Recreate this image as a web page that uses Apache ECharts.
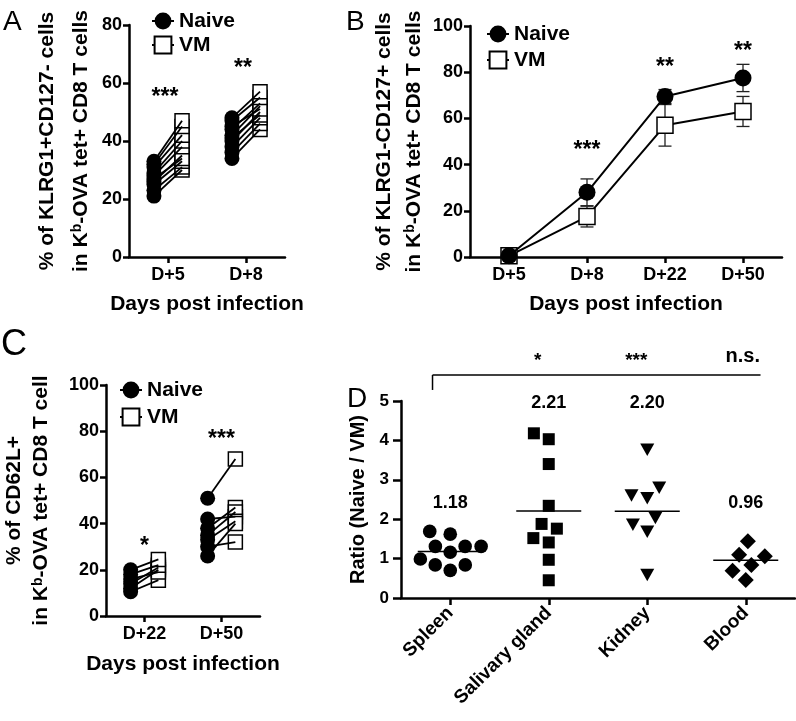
<!DOCTYPE html>
<html><head><meta charset="utf-8">
<script src="https://cdn.jsdelivr.net/npm/echarts@6.0.0/dist/echarts.min.js"></script>
<style>html,body{margin:0;padding:0;background:#fff}#c{width:796px;height:721px}</style>
</head><body><div id="c"></div>
<script>
// ---------- DATA ----------
// Panel A: % KLRG1+CD127- (paired Naive vs VM)
const aCategories = ['D+5', 'D+8'];
const aNaiveD5 = [21, 23, 25, 26, 27, 28, 29, 31, 32, 33];
const aVMD5    = [30, 31, 33, 35, 34, 38, 40, 42, 45, 47];
const aNaiveD8 = [34, 36, 38, 40, 41, 42, 44, 45, 47, 48];
const aVMD8    = [44, 46, 48, 50, 49, 52, 53, 51, 55, 57];
const aStars = ['***', '**'];
const aStarY = [55, 65];
const aTicks = [0, 20, 40, 60, 80];

// Panel B: % KLRG1-CD127+ (mean +/- SD)
const bCategories = ['D+5', 'D+8', 'D+22', 'D+50'];
const bNaive    = [0.5, 28, 69.5, 77.5];
const bNaiveErr = [0.3, 5.8, 3, 5.9];
const bVM       = [0.5, 17.5, 57, 63];
const bVMErr    = [0.3, 4.5, 9, 6.5];
const bStars = ['', '***', '**', '**'];
const bStarY = [0, 46, 82, 89];
const bTicks = [0, 20, 40, 60, 80, 100];

// Panel C: % CD62L+ (paired)
const cCategories = ['D+22', 'D+50'];
const cNaiveD22 = [10.5, 12, 14, 16, 18, 20];
const cVMD22    = [15.5, 20, 21, 19, 22, 24.5];
const cNaiveD50 = [51, 42, 38, 35, 33, 30, 26];
const cVMD50    = [68, 43, 47, 45, 41, 32, 40];
const cStars = ['*', '***'];
const cStarY = [30, 76.5];
const cTicks = [0, 20, 40, 60, 80, 100];

// Panel D: Ratio (Naive / VM)
const dCategories = ['Spleen', 'Salivary gland', 'Kidney', 'Blood'];
const dSpleen   = [1.31, 1.62, 1.69, 0.84, 1.31, 1.16, 1.31, 0.99, 0.70, 0.84];
const dSalivary = [4.03, 4.18, 3.40, 2.34, 1.76, 1.88, 1.52, 1.41, 0.97, 0.45];
const dKidney   = [3.78, 2.82, 2.55, 2.62, 1.88, 1.70, 2.05, 0.60];
const dBlood    = [1.44, 0.84, 1.10, 1.06, 0.46, 0.69];
const dMeans      = [1.18, 2.21, 2.20, 0.96];
const dMeanLabels = ['1.18', '2.21', '2.20', '0.96'];
const dSig = ['*', '***', 'n.s.'];
const dTicks = [0, 1, 2, 3, 4, 5];

// ---------- LAYOUT / STYLE ----------
const FONT = '"Liberation Sans", Arial, sans-serif';
const BLACK = '#000';
const OFF = 0.18;                 // pair offset (fraction of band)
const meanLabelY = [2.4, 4.95, 4.95, 2.4];

const chart = echarts.init(document.getElementById('c'));

function pairData(catIdx, naive, vm) { return naive.map((v, i) => [catIdx, v, vm[i]]); }
const aPairs = pairData(0, aNaiveD5, aVMD5).concat(pairData(1, aNaiveD8, aVMD8));
const cPairs = pairData(0, cNaiveD22, cVMD22).concat(pairData(1, cNaiveD50, cVMD50));

function pairRender(kind, r) {
  return function (params, api) {
    const cat = api.value(0);
    const band = api.size([1, 0])[0];
    const pn = api.coord([cat, api.value(1)]);
    const pv = api.coord([cat, api.value(2)]);
    const xn = pn[0] - OFF * band, xv = pv[0] + OFF * band;
    if (kind === 'line') return { type: 'line', shape: { x1: xn, y1: pn[1], x2: xv, y2: pv[1] }, style: { stroke: BLACK, lineWidth: 1.8 } };
    if (kind === 'sq') return { type: 'rect', shape: { x: xv - r, y: pv[1] - r, width: 2 * r, height: 2 * r }, style: { fill: '#fff', stroke: BLACK, lineWidth: 1.5 } };
    return { type: 'circle', shape: { cx: xn, cy: pn[1], r: r }, style: { fill: BLACK } };
  };
}

function pairSeries(gi, pairs, r) {
  const base = { type: 'custom', xAxisIndex: gi, yAxisIndex: gi, data: pairs, encode: { x: 0, y: [1, 2] }, silent: true };
  return [
    Object.assign({}, base, { name: 'VM', renderItem: pairRender('sq', r - 0.5) }),
    Object.assign({}, base, { name: 'pairs' + gi, renderItem: pairRender('line', r) }),
    Object.assign({}, base, { name: 'Naive', renderItem: pairRender('circle', r) })
  ];
}

function textSeries(gi, texts, ys, fontSize, dx) {
  return {
    type: 'custom', xAxisIndex: gi, yAxisIndex: gi, silent: true,
    data: texts.map((t, i) => [i, ys[i]]),
    encode: { x: 0, y: 1 },
    renderItem: function (params, api) {
      const p = api.coord([api.value(0), api.value(1)]);
      return { type: 'text', x: p[0] + (dx || 0), y: p[1],
        style: { text: texts[params.dataIndex], fill: BLACK, fontSize: fontSize, fontWeight: 'bold', fontFamily: FONT, align: 'center', verticalAlign: 'middle' } };
    }
  };
}

function errSeries(gi, means, errs) {
  return {
    type: 'custom', xAxisIndex: gi, yAxisIndex: gi, silent: true, z: 1,
    data: means.map((m, i) => [i, m - errs[i], m + errs[i]]),
    encode: { x: 0, y: [1, 2] },
    renderItem: function (params, api) {
      const lo = api.coord([api.value(0), api.value(1)]);
      const hi = api.coord([api.value(0), api.value(2)]);
      const w = 6.5;
      const st = { stroke: '#222', lineWidth: 1.3 };
      return { type: 'group', children: [
        { type: 'line', shape: { x1: lo[0], y1: lo[1], x2: hi[0], y2: hi[1] }, style: st },
        { type: 'line', shape: { x1: lo[0] - w, y1: lo[1], x2: lo[0] + w, y2: lo[1] }, style: st },
        { type: 'line', shape: { x1: hi[0] - w, y1: hi[1], x2: hi[0] + w, y2: hi[1] }, style: st }
      ] };
    }
  };
}

// beeswarm jitter for the column scatter in panel D
const swarmCache = {};
function swarmOffsets(key, vals, pxPerUnit, d) {
  const ck = key + ':' + pxPerUnit.toFixed(3);
  if (swarmCache[ck]) return swarmCache[ck];
  const order = vals.map((v, i) => i).sort((a, b) => vals[a] - vals[b]);
  const placed = [], off = new Array(vals.length);
  order.forEach(i => {
    const y = vals[i] * pxPerUnit;
    const cands = [0];
    placed.forEach(p => { const dy = Math.abs(p.y - y); if (dy < d) { const dx = Math.sqrt(d * d - dy * dy); cands.push(p.x + dx, p.x - dx); } });
    cands.sort((a, b) => (Math.abs(a) - Math.abs(b)) || (a - b));
    let best = 0;
    for (const c of cands) {
      if (placed.every(p => { const dy = p.y - y, dx = p.x - c; return dx * dx + dy * dy >= d * d - 0.01; })) { best = c; break; }
    }
    off[i] = best; placed.push({ x: best, y: y });
  });
  swarmCache[ck] = off;
  return off;
}

function groupSeries(catIdx, vals, shape) {
  return {
    type: 'custom', xAxisIndex: 3, yAxisIndex: 3, silent: true, z: 3,
    data: vals.map(v => [catIdx, v]), encode: { x: 0, y: 1 },
    renderItem: function (params, api) {
      const pxPerUnit = api.size([0, 1])[1];
      const offs = swarmOffsets(shape, vals, pxPerUnit, 16);
      const p = api.coord([api.value(0), api.value(1)]);
      const x = p[0] + offs[params.dataIndex], y = p[1];
      const st = { fill: BLACK };
      if (shape === 'circle') return { type: 'circle', shape: { cx: x, cy: y, r: 6.8 }, style: st };
      if (shape === 'square') return { type: 'rect', shape: { x: x - 6, y: y - 6, width: 12, height: 12 }, style: st };
      if (shape === 'tri') return { type: 'polygon', shape: { points: [[x - 7, y - 5.5], [x + 7, y - 5.5], [x, y + 7]] }, style: st };
      return { type: 'polygon', shape: { points: [[x, y - 8], [x + 8, y], [x, y + 8], [x - 8, y]] }, style: st };
    }
  };
}

const meanSeries = {
  type: 'custom', xAxisIndex: 3, yAxisIndex: 3, silent: true, z: 2,
  data: dMeans.map((m, i) => [i, m]), encode: { x: 0, y: 1 },
  renderItem: function (params, api) {
    const p = api.coord([api.value(0), api.value(1)]);
    const hw = api.size([1, 0])[0] * 0.33;
    return { type: 'line', shape: { x1: p[0] - hw, y1: p[1], x2: p[0] + hw, y2: p[1] }, style: { stroke: BLACK, lineWidth: 1.6 } };
  }
};

const bracketSeries = {
  type: 'custom', xAxisIndex: 3, yAxisIndex: 3, silent: true,
  data: [[0, 5]], encode: { x: 0, y: 1 },
  renderItem: function (params, api) {
    const band = api.size([1, 0])[0];
    const l = api.coord([0, 5.66]), r = api.coord([3, 5.66]), leg = api.coord([0, 5.28]);
    const x1 = l[0] - 0.18 * band, x2 = r[0] + 0.15 * band;
    const st = { stroke: BLACK, lineWidth: 1.5 };
    const kids = [
      { type: 'line', shape: { x1: x1, y1: l[1], x2: x2, y2: l[1] }, style: st },
      { type: 'line', shape: { x1: x1, y1: l[1], x2: x1, y2: leg[1] }, style: st }
    ];
    dSig.forEach((t, i) => {
      const p = api.coord([i + 1, 6.08]);
      const big = t === 'n.s.';
      kids.push({ type: 'text', x: p[0] + (big ? -3 : -11), y: p[1] + (big ? -2 : 2),
        style: { text: t, fill: BLACK, fontSize: big ? 20 : 19, fontWeight: 'bold', fontFamily: FONT, align: 'center', verticalAlign: 'middle' } });
    });
    return { type: 'group', children: kids };
  }
};

const meanLabelSeries = {
  type: 'custom', xAxisIndex: 3, yAxisIndex: 3, silent: true,
  data: dMeanLabels.map((t, i) => [i, meanLabelY[i]]), encode: { x: 0, y: 1 },
  renderItem: function (params, api) {
    const p = api.coord([api.value(0), api.value(1)]);
    return { type: 'text', x: p[0], y: p[1], style: { text: dMeanLabels[params.dataIndex], fill: BLACK, fontSize: 18, fontWeight: 'bold', fontFamily: FONT, align: 'center', verticalAlign: 'middle' } };
  }
};

// ---------- AXES ----------
const axLine = { show: true, lineStyle: { color: BLACK, width: 2.5 } };
const axTick = { show: true, length: 6, lineStyle: { color: BLACK, width: 2.5 } };
const lbl = { color: BLACK, fontSize: 18, fontWeight: 'bold', fontFamily: FONT };
const richName = {
  t: { fontSize: 21, fontWeight: 'bold', fontFamily: FONT, color: BLACK },
  s: { fontSize: 14, fontFamily: FONT, color: BLACK, padding: [0, 0, 7, 0] }
};

function xCat(gi, cats, extra) {
  return Object.assign({
    type: 'category', gridIndex: gi, data: cats, boundaryGap: true,
    axisLine: axLine, axisTick: Object.assign({}, axTick, { alignWithLabel: true }),
    axisLabel: Object.assign({}, lbl, { margin: 9, interval: 0 }),
    name: 'Days post infection', nameLocation: 'middle', nameGap: 37,
    nameTextStyle: { color: BLACK, fontSize: 21, fontWeight: 'bold', fontFamily: FONT },
    splitLine: { show: false }
  }, extra || {});
}
function yVal(gi, ticks, name, lh, gap, extra) {
  return Object.assign({
    type: 'value', gridIndex: gi, min: ticks[0], max: ticks[ticks.length - 1], interval: ticks[1] - ticks[0],
    axisLine: axLine, axisTick: axTick,
    axisLabel: Object.assign({}, lbl, { margin: 7 }),
    splitLine: { show: false },
    name: name, nameLocation: 'middle', nameRotate: 90, nameGap: gap,
    nameTextStyle: { color: BLACK, fontSize: 21, fontWeight: 'bold', fontFamily: FONT, lineHeight: lh,
      rich: { t: Object.assign({}, richName.t, { lineHeight: lh }), s: richName.s } }
  }, extra || {});
}

const legendBase = {
  orient: 'vertical', data: ['Naive', 'VM'], selectedMode: false,
  itemWidth: 22, itemHeight: 21,
  textStyle: { color: BLACK, fontSize: 21, fontWeight: 'bold', fontFamily: FONT }
};

const option = {
  animation: false,
  backgroundColor: '#fff',
  textStyle: { fontFamily: FONT },
  grid: [
    { left: 129, top: 25, width: 156, height: 232 },
    { left: 470, top: 26, width: 312, height: 231 },
    { left: 106, top: 385, width: 154, height: 231 },
    { left: 401, top: 401, width: 394, height: 197 }
  ],
  legend: [
    Object.assign({}, legendBase, { left: 146, top: 5.5, itemGap: 3 }),
    Object.assign({}, legendBase, { left: 481, top: 18.5, itemGap: 5 }),
    Object.assign({}, legendBase, { left: 114, top: 374.5, itemGap: 6 })
  ],
  xAxis: [
    xCat(0, aCategories),
    xCat(1, bCategories),
    xCat(2, cCategories, { nameGap: 38 }),
    xCat(3, dCategories, { name: '', axisTick: Object.assign({}, axTick, { alignWithLabel: true, length: 7 }),
      axisLabel: Object.assign({}, lbl, { fontSize: 19, margin: 12, interval: 0, rotate: 45 }) })
  ],
  yAxis: [
    yVal(0, aTicks, '{t|% of KLRG1+CD127- cells}\n{t|in K}{s|b}{t|-OVA tet+ CD8 T cells}', 34, 31),
    yVal(1, bTicks, '{t|% of KLRG1-CD127+ cells}\n{t|in K}{s|b}{t|-OVA tet+ CD8 T cells}', 30, 40),
    yVal(2, cTicks, '{t|% of CD62L+}\n{t|in K}{s|b}{t|-OVA tet+ CD8 T cell}', 27, 51),
    yVal(3, dTicks, '{t|Ratio (Naive / VM)}', 22, 32, {
      axisLabel: Object.assign({}, lbl, { fontSize: 17, margin: 12 }),
      axisTick: Object.assign({}, axTick, { length: 8 }),
      nameTextStyle: { color: BLACK, fontSize: 20, fontWeight: 'bold', fontFamily: FONT,
        rich: { t: { fontSize: 20, fontWeight: 'bold', fontFamily: FONT, color: BLACK, lineHeight: 22 } } }
    })
  ],
  graphic: [
    { type: 'text', left: 3, top: 8, style: { text: 'A', fontSize: 28, fontFamily: FONT, fill: BLACK } },
    { type: 'text', left: 346, top: 8, style: { text: 'B', fontSize: 28, fontFamily: FONT, fill: BLACK } },
    { type: 'text', left: 1, top: 327, style: { text: 'C', fontSize: 36, fontFamily: FONT, fill: BLACK } },
    { type: 'text', left: 347, top: 385, style: { text: 'D', fontSize: 28, fontFamily: FONT, fill: BLACK } }
  ],
  series: [
    // Panel B (first, so legends use the line+marker icons)
    { name: 'Naive', type: 'line', xAxisIndex: 1, yAxisIndex: 1, data: bNaive, symbol: 'circle', symbolSize: 17, z: 4,
      lineStyle: { color: BLACK, width: 2 }, itemStyle: { color: BLACK }, silent: true },
    { name: 'VM', type: 'line', xAxisIndex: 1, yAxisIndex: 1, data: bVM, symbol: 'rect', symbolSize: 16, z: 3,
      lineStyle: { color: BLACK, width: 2 }, itemStyle: { color: '#fff', borderColor: BLACK, borderWidth: 1.5 }, silent: true },
    errSeries(1, bNaive, bNaiveErr),
    errSeries(1, bVM, bVMErr),
    textSeries(1, bStars, bStarY, 23),
    // Panel A
    ...pairSeries(0, aPairs, 7.5),
    textSeries(0, aStars, aStarY, 23, -3),
    // Panel C
    ...pairSeries(2, cPairs, 7.5),
    textSeries(2, cStars, cStarY, 23),
    // Panel D
    groupSeries(0, dSpleen, 'circle'),
    groupSeries(1, dSalivary, 'square'),
    groupSeries(2, dKidney, 'tri'),
    groupSeries(3, dBlood, 'diamond'),
    meanSeries,
    meanLabelSeries,
    bracketSeries
  ]
};
chart.setOption(option);
</script>
</body></html>
